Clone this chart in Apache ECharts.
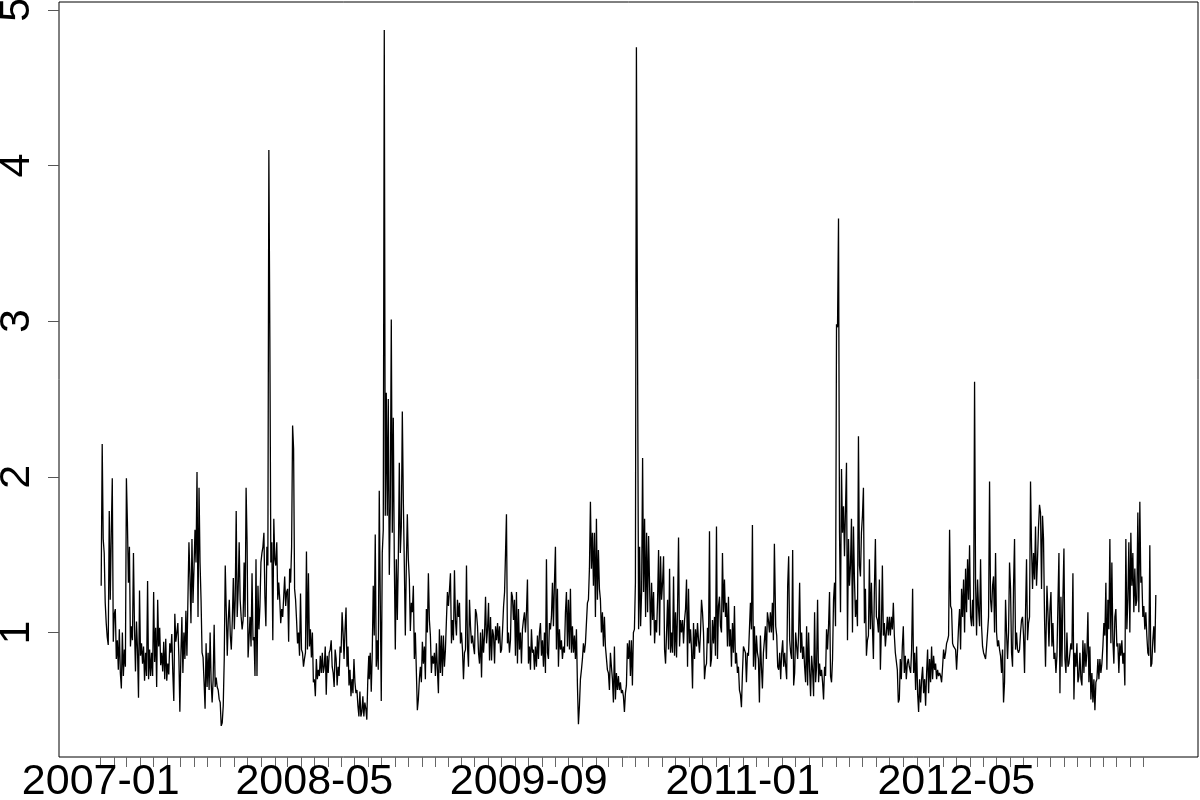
<!DOCTYPE html>
<html>
<head>
<meta charset="utf-8">
<script src="https://cdn.jsdelivr.net/npm/echarts@6/dist/echarts.min.js"></script>
<style>
html,body{margin:0;padding:0;background:#fff;}
#chart{width:1200px;height:800px;}
</style>
</head>
<body>
<div id="chart"></div>
<script>
// Tick labels shown on the x axis (month starts)
const xTickLabels = ['2007-01', '2008-05', '2009-09', '2011-01', '2012-05'];
const yTickValues = [1, 2, 3, 4, 5];
const firstTickMonth = '2007-01';
const lastTickMonth = '2013-07';

// Periods covered by each block of readings (start date, end date)
const periods = [
  ['2007-01-02', '2007-11-01'],
  ['2007-11-03', '2008-09-02'],
  ['2008-09-03', '2009-07-08'],
  ['2009-07-10', '2010-05-04'],
  ['2010-05-09', '2011-03-14'],
  ['2011-03-17', '2012-01-15'],
  ['2012-01-18', '2012-11-20'],
  ['2012-11-21', '2013-07-29']
];

// Values, evenly spaced within each period
const vals2007 = [1.30,2.21,1.60,1.51,1.19,1.06,0.97,0.92,1.78,1.21,1.64,1.99,0.94,1.12,1.15,0.83,0.95,0.76,1.02,0.74,0.64,1.00,0.72,0.89,0.78,1.99,1.71,1.32,1.55,0.91,1.04,0.95,1.51,1.04,0.75,1.07,0.89,0.58,1.27,0.85,0.93,0.80,0.91,0.69,0.87,0.72,1.33,0.70,0.89,0.72,0.87,0.72,1.26,0.81,1.03,0.65,1.21,0.91,1.03,0.79,0.87,0.75,0.94,0.70,0.96,0.69,0.80,0.73,0.93,0.87,0.99,0.74,0.56,1.12,0.94,1.00,1.06,0.85,0.49,0.85,1.10,0.74,1.00,0.83,1.14,0.85,0.84,1.58,1.36,1.06,1.60,1.19,1.41,1.66,1.45,2.03,1.10,1.93,1.45,1.21,0.87,0.84,0.68,0.51,0.93,0.65,0.87,0.63,1.00,0.68,0.55,0.70,1.05,0.65,0.71,0.65,0.63,0.57,0.55,0.40,0.42,0.53,0.83,1.43,1.14,0.85,1.08,1.21,0.98,0.89,1.08,1.35,1.02];
const vals2008a = [1.21,1.78,1.10,1.28,1.58,1.21,1.10,1.02,1.08,1.45,1.10,1.93,1.58,0.84,0.85,1.10,0.91,1.38,0.95,0.97,0.72,1.47,0.72,1.30,1.02,1.17,1.45,1.51,1.55,1.64,1.23,1.04,1.55,1.43,4.10,2.90,1.45,1.58,0.95,1.73,1.47,1.43,1.58,1.21,1.32,1.21,1.06,1.15,1.10,1.23,1.36,1.17,1.26,1.28,0.94,1.41,1.32,1.55,2.33,2.18,1.28,1.21,1.08,0.93,1.00,0.85,1.25,0.89,0.87,0.78,0.83,0.87,1.52,0.89,1.38,0.91,1.02,0.84,1.00,0.68,0.70,0.59,0.83,0.70,0.76,0.72,0.85,0.74,0.87,0.74,0.78,0.91,0.60,0.85,0.74,0.87,0.89,0.95,0.78,0.74,0.65,0.89,0.83,0.66,0.78,0.72,0.91,0.87,1.13,1.00,0.83,1.02,1.16,0.78,0.91,0.66,0.76,0.59,0.70,0.61,0.83,0.68,0.61,0.63,0.53,0.46,0.62,0.46,0.49,0.59,0.46,0.55,0.51,0.44,0.70,0.85];
const vals2008b = [0.70,0.87,0.62,0.87,1.30,0.98,1.63,0.78,0.95,0.76,1.91,1.21,0.56,1.51,1.66,4.87,1.75,2.54,1.75,2.50,1.37,1.81,3.01,1.64,2.38,1.47,0.89,1.47,1.08,1.47,2.09,1.51,1.68,2.42,1.85,1.43,0.98,1.43,1.76,1.47,1.34,1.01,1.19,1.13,1.30,0.83,1.00,0.99,0.50,0.57,0.70,0.78,0.68,0.94,0.80,0.91,0.70,1.15,1.00,1.38,1.08,0.98,0.74,0.85,0.80,0.87,0.72,0.93,0.76,0.61,1.02,0.74,0.98,0.72,0.98,0.78,0.89,1.08,1.26,1.17,1.27,1.38,0.93,1.08,0.95,1.40,1.08,0.98,1.21,1.10,1.19,0.93,1.00,0.89,0.70,0.87,0.89,1.43,0.91,0.78,1.21,1.04,0.93,0.98,0.91,0.86,1.15,1.12,1.04,0.87,0.80,1.00,0.71,1.02,0.87,0.98,1.23,0.93,1.02,1.19,0.82,1.10,0.82,1.02,0.98,0.80,1.04,0.95,1.06,0.93,1.04,0.87,0.89,1.02,1.17,1.26];
const vals2009 = [1.26,1.76,0.93,1.00,0.87,0.95,1.26,1.23,1.08,1.21,0.85,1.26,0.80,1.15,0.89,1.00,0.80,1.02,1.08,1.13,1.00,1.13,1.34,0.80,0.91,0.76,1.02,0.87,0.89,0.76,0.91,0.78,0.98,0.83,1.00,1.06,0.85,0.95,0.78,1.00,0.74,1.47,0.87,0.83,1.06,1.02,1.10,1.32,1.04,1.32,1.55,0.89,1.28,0.78,1.02,0.89,0.95,0.83,0.91,0.87,1.13,1.26,0.91,1.21,0.89,1.28,0.87,1.04,0.87,0.98,0.83,1.02,0.66,0.41,0.53,0.70,0.76,0.83,0.93,0.87,0.93,1.06,1.19,1.21,1.41,1.84,1.41,1.64,1.30,1.64,1.10,1.73,1.21,1.53,1.28,1.21,1.00,1.13,0.91,1.10,0.91,0.91,0.76,0.74,0.63,0.87,0.78,0.70,0.55,0.91,0.57,0.74,0.63,0.72,0.63,0.68,0.61,0.63,0.59,0.49,0.61,0.66,0.93,0.83,0.95,0.72,0.95,0.66,1.00,1.02,1.32,4.76];
const vals2010 = [1.02,1.55,1.04,1.26,2.12,1.26,1.73,1.10,1.64,1.13,1.62,1.30,0.98,1.32,1.08,1.26,0.93,1.08,1.00,1.21,1.53,0.98,1.49,1.21,1.32,1.49,0.89,0.80,1.00,1.21,0.89,1.41,0.87,1.00,0.87,1.36,0.85,1.13,0.84,1.15,1.61,0.91,1.08,1.00,1.08,0.93,1.08,1.15,1.34,0.78,1.28,0.93,1.02,0.89,0.64,1.06,0.83,1.02,0.91,1.06,0.95,0.87,1.00,1.21,1.13,1.00,0.70,0.78,0.80,1.03,0.93,1.65,0.78,0.83,1.08,0.93,1.10,0.85,1.68,0.83,1.17,1.23,1.04,1.00,1.51,1.13,1.34,1.10,1.19,0.91,1.23,0.91,1.02,0.78,1.06,0.87,1.17,0.80,0.87,0.74,0.78,0.63,0.60,0.52,0.74,0.91,0.91,0.87,0.68,0.87,0.85,0.85,1.19,1.02,1.69,0.78,1.04,0.76,0.98,0.87,0.83,0.55,0.98,0.78,0.64,0.87,0.95,1.04,0.83,1.13,1.08,1.00,1.13,1.00,1.19,0.95,1.57];
const vals2011 = [1.04,0.98,0.78,0.76,0.87,0.70,0.87,0.95,0.78,0.87,0.78,0.70,1.30,1.49,0.95,0.87,0.83,1.53,0.66,0.74,1.00,0.91,0.83,1.00,1.32,0.87,1.00,0.83,0.91,0.78,0.68,1.04,0.66,1.00,0.76,0.59,0.85,0.76,0.59,1.13,0.68,0.78,1.21,0.68,0.80,0.72,0.76,0.68,0.57,0.78,0.72,1.02,0.89,1.04,1.26,0.72,0.68,0.83,1.21,1.32,1.04,2.98,2.96,3.66,1.64,1.13,2.05,1.64,1.81,1.49,1.79,2.09,0.95,1.60,1.30,1.43,1.73,1.00,1.68,1.34,1.10,1.21,1.04,2.26,1.43,1.36,1.64,1.75,1.93,1.06,1.28,0.85,0.95,0.98,1.47,1.02,1.32,1.04,0.83,1.28,1.60,1.10,1.08,1.00,1.34,0.76,1.02,1.43,0.98,1.06,0.91,1.00,1.10,0.98,1.10,0.98,1.10,1.02,1.19,0.98,0.87,0.87,0.76,0.55,0.57,0.83,0.70,0.91,1.04,0.74,0.85,0.70,0.80,0.83,0.78];
const vals2012 = [0.74,0.89,1.28,0.74,0.87,0.63,0.91,0.61,0.49,0.70,0.55,0.70,0.78,0.61,0.70,0.53,0.74,0.89,0.61,0.83,0.68,0.91,0.70,0.85,0.76,0.80,0.70,0.76,0.72,0.74,0.72,0.68,0.78,0.89,0.83,0.87,0.93,0.95,0.98,1.66,1.17,1.15,0.93,0.91,0.91,0.89,0.76,0.89,1.04,1.15,0.89,1.28,1.10,1.34,1.00,1.41,1.13,1.47,1.21,1.56,1.10,1.04,1.21,1.04,2.61,1.32,0.98,1.34,1.15,1.04,1.47,1.04,0.91,0.87,0.85,0.83,0.91,1.00,1.10,1.97,1.21,1.13,1.30,1.36,1.00,1.51,1.00,0.91,0.95,0.89,0.85,0.74,0.89,0.55,0.68,1.21,1.00,0.83,1.00,1.45,1.28,0.87,0.78,1.30,1.60,0.89,1.00,0.89,0.87,0.89,1.00,1.08,1.10,0.98,0.74,1.13,1.47,0.95,1.06,1.10,1.97,1.55,1.28,1.51,1.34,1.68,1.30,1.47,1.68,1.82,1.77,1.28,1.75,1.60,1.10,0.78];
const vals2013 = [0.78,1.30,1.13,0.91,1.15,1.26,0.91,1.06,0.83,0.87,0.74,0.85,1.19,1.51,0.61,1.23,0.78,1.23,1.54,0.83,0.74,1.00,0.78,0.80,0.87,0.93,0.89,1.38,0.57,0.87,0.78,0.93,0.68,0.72,0.87,0.70,0.66,0.95,0.74,0.93,0.78,0.87,1.13,0.68,0.91,0.57,0.74,0.55,0.70,0.50,0.68,0.70,0.83,0.70,0.83,0.74,0.80,0.91,1.06,0.98,1.32,0.76,1.21,1.02,1.60,0.93,1.45,0.95,0.80,1.10,1.15,0.91,0.93,0.74,0.93,0.85,0.95,0.80,0.87,0.66,1.60,1.02,1.21,1.58,1.00,1.64,1.30,1.51,1.13,1.41,1.17,1.21,1.77,1.13,1.84,1.32,1.36,1.10,1.17,1.02,1.13,0.98,0.87,0.85,1.56,0.78,0.80,0.95,1.04,0.87,1.24];

const blocks = [vals2007, vals2008a, vals2008b, vals2009, vals2010, vals2011, vals2012, vals2013];

const DAY = 86400000;
const origin = Date.UTC(2007, 0, 1);
function dayOf(str) { return (Date.parse(str) - origin) / DAY; }
function dayOfMonth(ym) { const p = ym.split('-'); return (Date.UTC(+p[0], +p[1] - 1, 1) - origin) / DAY; }
function fmtDay(d) {
  const dt = new Date(origin + Math.round(d) * DAY);
  return dt.getUTCFullYear() + '-' + String(dt.getUTCMonth() + 1).padStart(2, '0');
}

// Build [day, value] pairs
const seriesData = [];
blocks.forEach((vals, b) => {
  const d0 = dayOf(periods[b][0]), d1 = dayOf(periods[b][1]);
  const n = vals.length;
  vals.forEach((v, i) => {
    seriesData.push([d0 + (n > 1 ? (d1 - d0) * i / (n - 1) : 0), v]);
  });
});

// Month ticks
const monthTicks = [];
{
  let [y, m] = firstTickMonth.split('-').map(Number);
  const [ye, me] = lastTickMonth.split('-').map(Number);
  while (y < ye || (y === ye && m <= me)) {
    monthTicks.push((Date.UTC(y, m - 1, 1) - origin) / DAY);
    m++; if (m > 12) { m = 1; y++; }
  }
}
const labelDays = xTickLabels.map(dayOfMonth);

// R-style 4% padding of the x range
const xs = seriesData.map(p => p[0]);
const xMinD = Math.min(...xs), xMaxD = Math.max(...xs);
const xPad = (xMaxD - xMinD) * 0.04;

const chart = echarts.init(document.getElementById('chart'), null, {renderer: 'canvas'});
chart.setOption({
  animation: false,
  backgroundColor: '#fff',
  grid: {
    left: 59, right: 2, top: 2, bottom: 43,
    show: true, borderColor: '#000', borderWidth: 1, backgroundColor: 'transparent',
    containLabel: false,
    outerBoundsMode: 'none'
  },
  xAxis: {
    type: 'value',
    position: 'bottom',
    min: xMinD - xPad,
    max: xMaxD + xPad,
    axisLine: {show: false, onZero: false},
    splitLine: {show: false},
    axisTick: {show: true, length: 10, customValues: monthTicks, lineStyle: {color: '#666', width: 1}},
    axisLabel: {
      show: true, customValues: labelDays, formatter: (v) => fmtDay(v),
      fontSize: 43, fontFamily: 'Liberation Sans, Arial, sans-serif', color: '#000', margin: 4
    }
  },
  yAxis: {
    type: 'value',
    position: 'left',
    min: 0.2,
    max: 5.05,
    axisLine: {show: false, onZero: false},
    splitLine: {show: false},
    axisTick: {show: true, length: 11, customValues: yTickValues, lineStyle: {color: '#555', width: 1}},
    axisLabel: {
      show: true, customValues: yTickValues, rotate: 90,
      fontSize: 43, fontFamily: 'Liberation Sans, Arial, sans-serif', color: '#000', margin: 20
    }
  },
  series: [{
    type: 'line',
    data: seriesData,
    showSymbol: false,
    symbol: 'none',
    lineStyle: {color: '#000', width: 1.3},
    emphasis: {disabled: true}
  }]
});
</script>
</body>
</html>
